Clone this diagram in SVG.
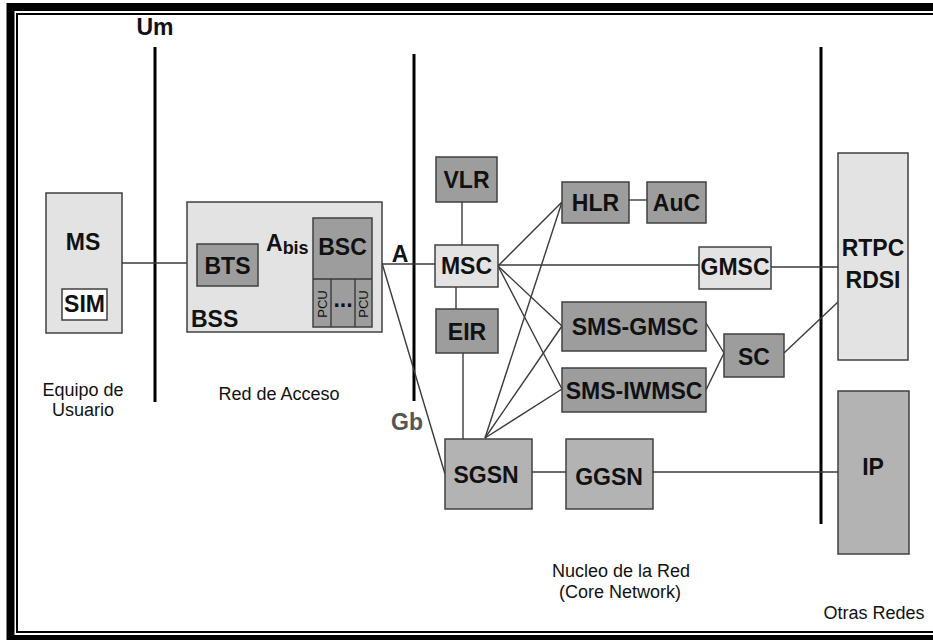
<svg xmlns="http://www.w3.org/2000/svg" width="933" height="640" viewBox="0 0 933 640">
  <style>
    .lt { fill: #e3e3e3; stroke: #404040; stroke-width: 1.5; }
    .dk { fill: #9d9d9d; stroke: #404040; stroke-width: 1.5; }
    .md { fill: #b3b3b3; stroke: #404040; stroke-width: 1.5; }
    .wh { fill: #ffffff; stroke: #404040; stroke-width: 1.5; }
    .lbl { font-family: "Liberation Sans", Arial, sans-serif; font-weight: bold; font-size: 23px; fill: #111; text-anchor: middle; }
    .cap { font-family: "Liberation Sans", Arial, sans-serif; font-size: 18px; fill: #111; text-anchor: middle; }
    .pcu { font-family: "Liberation Sans", Arial, sans-serif; font-size: 13px; fill: #111; text-anchor: middle; }
    .bar { stroke: #000; stroke-width: 3; fill: none; }
    .ln { stroke: #3a3a3a; stroke-width: 1.4; fill: none; }
  </style>

  <rect width="933" height="640" fill="#ffffff"/>

  <!-- double frame -->
  <path d="M10.5 645 V7 H945" fill="none" stroke="#000" stroke-width="8"/>
  <line x1="7" y1="638" x2="945" y2="638" stroke="#000" stroke-width="6"/>
  <rect x="17" y="14" width="930" height="618" fill="none" stroke="#000" stroke-width="2"/>

  <!-- interface bars -->
  <g id="bars">
    <line class="bar" x1="155" y1="47" x2="155" y2="402"/>
    <line class="bar" x1="414" y1="54" x2="414" y2="401"/>
    <line class="bar" x1="821" y1="47" x2="821" y2="524"/>
  </g>

  <!-- connectors -->
  <g id="connectors">
    <line class="ln" x1="122" y1="263" x2="197" y2="263"/>
    <line class="ln" x1="258" y1="262" x2="313" y2="262"/>
    <line class="ln" x1="372" y1="264" x2="435" y2="264"/>
    <line class="ln" x1="382" y1="263" x2="445" y2="474"/>
    <line class="ln" x1="462" y1="202" x2="462" y2="245"/>
    <line class="ln" x1="456" y1="287" x2="456" y2="309"/>
    <line class="ln" x1="463" y1="353" x2="463" y2="439"/>
    <line class="ln" x1="498" y1="266" x2="562" y2="202"/>
    <line class="ln" x1="498" y1="266" x2="562" y2="326"/>
    <line class="ln" x1="498" y1="266" x2="562" y2="389"/>
    <line class="ln" x1="485" y1="438" x2="562" y2="202"/>
    <line class="ln" x1="485" y1="438" x2="562" y2="326"/>
    <line class="ln" x1="485" y1="438" x2="562" y2="389"/>
    <line class="ln" x1="629" y1="200" x2="647" y2="200"/>
    <line class="ln" x1="498" y1="265" x2="699" y2="265"/>
    <line class="ln" x1="771" y1="267" x2="838" y2="267"/>
    <line class="ln" x1="706" y1="323" x2="724" y2="353"/>
    <line class="ln" x1="706" y1="390" x2="724" y2="353"/>
    <line class="ln" x1="784" y1="353" x2="838" y2="302"/>
    <line class="ln" x1="532" y1="472" x2="566" y2="472"/>
    <line class="ln" x1="653" y1="472" x2="838" y2="472"/>
  </g>

  <!-- user equipment -->
  <g id="ms">
    <rect class="lt" x="46" y="193" width="76" height="140"/>
    <text class="lbl" x="83" y="250">MS</text>
  </g>
  <g id="sim">
    <rect class="wh" x="62" y="289" width="45" height="31"/>
    <text class="lbl" x="84.5" y="312">SIM</text>
  </g>

  <!-- access network -->
  <g id="bss">
    <rect class="lt" x="187" y="202" width="195" height="130"/>
    <text class="lbl" x="191" y="327" style="text-anchor:start">BSS</text>
  </g>
  <g id="bts">
    <rect class="dk" x="197" y="244" width="61" height="42"/>
    <text class="lbl" x="227.5" y="274">BTS</text>
  </g>
  <g id="abis">
    <text class="lbl" x="266" y="251" style="text-anchor:start">A<tspan font-size="18" dy="3">bis</tspan></text>
  </g>
  <g id="bsc">
    <rect class="dk" x="313" y="218" width="59" height="109"/>
    <line class="ln" x1="313" y1="279" x2="372" y2="279"/>
    <line class="ln" x1="331" y1="279" x2="331" y2="327"/>
    <line class="ln" x1="355" y1="279" x2="355" y2="327"/>
    <text class="lbl" x="342.5" y="255">BSC</text>
    <text class="pcu" transform="translate(327 304) rotate(-90)">PCU</text>
    <text class="pcu" transform="translate(368 304) rotate(-90)">PCU</text>
    <text class="lbl" x="343" y="307" font-size="17">...</text>
  </g>
  <g id="if-a">
    <text class="lbl" x="400" y="262" font-size="21">A</text>
  </g>
  <g id="if-gb">
    <text class="lbl" x="407" y="430" font-size="21" style="fill:#555">Gb</text>
  </g>
  <g id="if-um">
    <text class="lbl" x="155" y="35" font-size="18">Um</text>
  </g>

  <!-- core network -->
  <g id="vlr">
    <rect class="dk" x="436" y="157" width="61" height="45"/>
    <text class="lbl" x="466.5" y="188">VLR</text>
  </g>
  <g id="msc">
    <rect class="lt" x="435" y="245" width="63" height="42"/>
    <text class="lbl" x="466.5" y="274">MSC</text>
  </g>
  <g id="eir">
    <rect class="dk" x="436" y="309" width="62" height="44"/>
    <text class="lbl" x="467" y="340">EIR</text>
  </g>
  <g id="hlr">
    <rect class="dk" x="562" y="182" width="67" height="41"/>
    <text class="lbl" x="595.5" y="211">HLR</text>
  </g>
  <g id="auc">
    <rect class="dk" x="647" y="182" width="59" height="41"/>
    <text class="lbl" x="676.5" y="211">AuC</text>
  </g>
  <g id="gmsc">
    <rect class="lt" x="699" y="247" width="72" height="42"/>
    <text class="lbl" x="735" y="275">GMSC</text>
  </g>
  <g id="sms-gmsc">
    <rect class="dk" x="562" y="302" width="144" height="49"/>
    <text class="lbl" x="635" y="335">SMS-GMSC</text>
  </g>
  <g id="sms-iwmsc">
    <rect class="dk" x="562" y="368" width="144" height="44"/>
    <text class="lbl" x="634" y="399">SMS-IWMSC</text>
  </g>
  <g id="sc">
    <rect class="dk" x="724" y="334" width="60" height="43"/>
    <text class="lbl" x="754" y="365">SC</text>
  </g>
  <g id="sgsn">
    <rect class="md" x="445" y="439" width="87" height="70"/>
    <text class="lbl" x="486" y="483">SGSN</text>
  </g>
  <g id="ggsn">
    <rect class="md" x="566" y="439" width="87" height="70"/>
    <text class="lbl" x="609" y="485">GGSN</text>
  </g>

  <!-- other networks -->
  <g id="rtpc">
    <rect class="lt" x="838" y="153" width="70" height="207"/>
    <text class="lbl" x="873" y="256">RTPC</text>
    <text class="lbl" x="873" y="288">RDSI</text>
  </g>
  <g id="ip">
    <rect class="md" x="838" y="391" width="71" height="163"/>
    <text class="lbl" x="873" y="475">IP</text>
  </g>

  <!-- region captions -->
  <g id="captions">
    <text class="cap" x="83" y="396">Equipo de</text>
    <text class="cap" x="83" y="416">Usuario</text>
    <text class="cap" x="279" y="400" font-size="18.5">Red de Acceso</text>
    <text class="cap" x="621" y="577">Nucleo de la Red</text>
    <text class="cap" x="620" y="598">(Core Network)</text>
    <text class="cap" x="874" y="619">Otras Redes</text>
  </g>
</svg>
